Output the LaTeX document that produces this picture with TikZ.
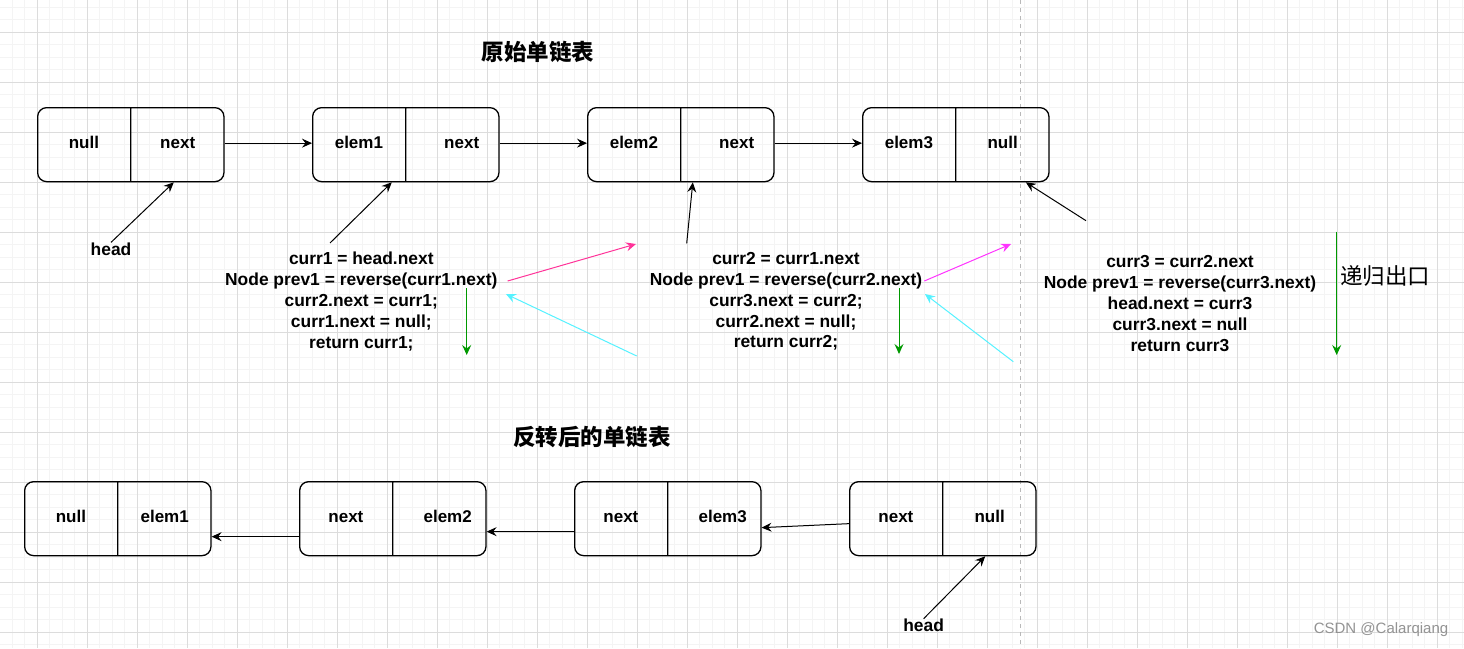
\documentclass[tikz,border=0pt]{standalone}
\usepackage{fontspec}
\setmainfont{Liberation Sans}
\newfontfamily\cjk{Noto Sans CJK SC}
\usetikzlibrary{shapes.multipart,arrows.meta}

\definecolor{gridmajor}{HTML}{DCDCDC}
\definecolor{gridminor}{HTML}{F4F4F4}
\definecolor{retgreen}{HTML}{009900}
\definecolor{callpink}{HTML}{FF3399}
\definecolor{callmagenta}{HTML}{FF33FF}
\definecolor{backcyan}{HTML}{55F2FF}

% one half of a list cell, fixed width and height
\newcommand{\half}[1]{\makebox[92.5pt]{\rule[-33.5pt]{0pt}{74pt}#1}}

\begin{document}
\begin{tikzpicture}[x=1pt, y=-1pt, >={Stealth[length=10pt,width=9pt,inset=3.5pt]},
    cell/.style={rectangle split, rectangle split parts=2, rectangle split horizontal,
      draw, rounded corners=9pt, line width=1.3pt, inner sep=0pt, anchor=north west,
      font=\fontsize{17}{20}\selectfont\bfseries},
    code/.style={align=center, inner sep=0pt, font=\fontsize{17.4}{20.8}\selectfont\bfseries},
    title/.style={inner sep=0pt, font=\cjk\bfseries\fontsize{22.5}{27}\selectfont},
    link/.style={->, line width=1pt}]

  % paper and grid
  \fill[white] (0,0) rectangle (1464,648);
  \useasboundingbox (0,0) rectangle (1464,648);
  \foreach \x in {11.7,24.2,...,1464} \draw[gridminor] (\x,0) -- (\x,648);
  \foreach \y in {6.7,19.2,...,648} \draw[gridminor] (0,\y) -- (1464,\y);
  \foreach \x in {36.7,86.7,...,1464} \draw[gridmajor] (\x,0) -- (\x,648);
  \foreach \y in {31.7,81.7,...,648} \draw[gridmajor] (0,\y) -- (1464,\y);
  \draw[gray!55, line width=1pt, dash pattern=on 4pt off 4pt] (1020.7,0) -- (1020.7,648);

  % original list
  \node[title] (ttl1) at (538,51.7) {原始单链表};
  \node[cell] (t1) at (37,107) {\half{null}\nodepart{two}\half{next}};
  \node[cell] (t2) at (312,107) {\half{elem1}\nodepart{two}\half{\hspace{18pt}next}};
  \node[cell] (t3) at (587,107) {\half{elem2}\nodepart{two}\half{\hspace{18pt}next}};
  \node[cell] (t4) at (862,107) {\half{elem3}\nodepart{two}\half{null}};
  \draw[link] ([yshift=1.5pt]t1.east) -- ([yshift=1.5pt]t2.west);
  \draw[link] ([yshift=1.5pt]t2.east) -- ([yshift=1.5pt]t3.west);
  \draw[link] ([yshift=1.5pt]t3.east) -- ([yshift=1.5pt]t4.west);

  \node[code] (hd1) at (111,249) {head};
  \draw[link] (hd1.north) -- ([xshift=43pt]t1.south);

  % recursion frames
  \node[code] (c1) at (361.3,301.5) {curr1 = head.next\\Node prev1 = reverse(curr1.next)\\
    curr2.next = curr1;\\curr1.next = null;\\return curr1;};
  \node[code] (c2) at (786,301.5) {curr2 = curr1.next\\Node prev1 = reverse(curr2.next)\\
    curr3.next = curr2;\\curr2.next = null;\\return curr2;};
  \node[code] (c3) at (1180,303.5) {curr3 = curr2.next\\Node prev1 = reverse(curr3.next)\\
    head.next = curr3\\curr3.next = null\\return curr3};
  \node[inner sep=0pt, font=\cjk\fontsize{22.5}{27}\selectfont] (exit) at (1385,276) {递归出口};

  \coordinate (cur1) at (330,243);
  \coordinate (cur2) at (686.7,243.3);
  \coordinate (cur3) at (1086,220.7);
  \draw[link] (cur1) -- ([xshift=-14pt]t2.south);
  \draw[link] (cur2) -- ([xshift=12pt]t3.south);
  \draw[link] (cur3) -- ([xshift=70pt]t4.south);

  \coordinate (call1) at (636,244);
  \coordinate (call2) at (1011,244);
  \coordinate (back1) at (636.7,356);
  \coordinate (back2) at (1013.3,361.7);
  \draw[link, callpink] ([xshift=10pt,yshift=20.5pt]c1.east) -- (call1);
  \draw[link, callmagenta] ([xshift=2pt,yshift=20.5pt]c2.east) -- (call2);
  \draw[link, backcyan] (back1) -- ([xshift=8.3pt,yshift=7.5pt]c1.east);
  \draw[link, backcyan] (back2) -- ([xshift=2.6pt,yshift=7.5pt]c2.east);

  \coordinate (ret1a) at (466.7,288);
  \coordinate (ret1b) at (466.7,355);
  \coordinate (ret2a) at (899,288);
  \coordinate (ret2b) at (899,354);
  \coordinate (ret3a) at (1336.7,231.7);
  \coordinate (ret3b) at (1336.7,355);
  \draw[link, retgreen] (ret1a) -- (ret1b);
  \draw[link, retgreen] (ret2a) -- (ret2b);
  \draw[link, retgreen] (ret3a) -- (ret3b);

  % reversed list
  \node[title] (ttl2) at (592,437.3) {反转后的单链表};
  \node[cell] (r1) at (24,481) {\half{null}\nodepart{two}\half{elem1}};
  \node[cell] (r2) at (299,481) {\half{next}\nodepart{two}\half{\hspace{16pt}elem2}};
  \node[cell] (r3) at (574,481) {\half{next}\nodepart{two}\half{\hspace{16pt}elem3}};
  \node[cell] (r4) at (849,481) {\half{next}\nodepart{two}\half{null}};
  \draw[link] ([yshift=-18pt]r2.west) -- ([yshift=-18pt]r1.east);
  \draw[link] ([yshift=-13pt]r3.west) -- ([yshift=-13pt]r2.east);
  \draw[link] ([yshift=-5pt]r4.west) -- ([yshift=-9pt]r3.east);

  \node[code] (hd2) at (923.6,625.3) {head};
  \draw[link] (hd2.north) -- ([xshift=42.4pt]r4.south);

  \node[inner sep=0pt, text=gray!85, font=\fontsize{15}{15}\selectfont] (mark) at (1381,629.5) {CSDN @Calarqiang};
\end{tikzpicture}
\end{document}
